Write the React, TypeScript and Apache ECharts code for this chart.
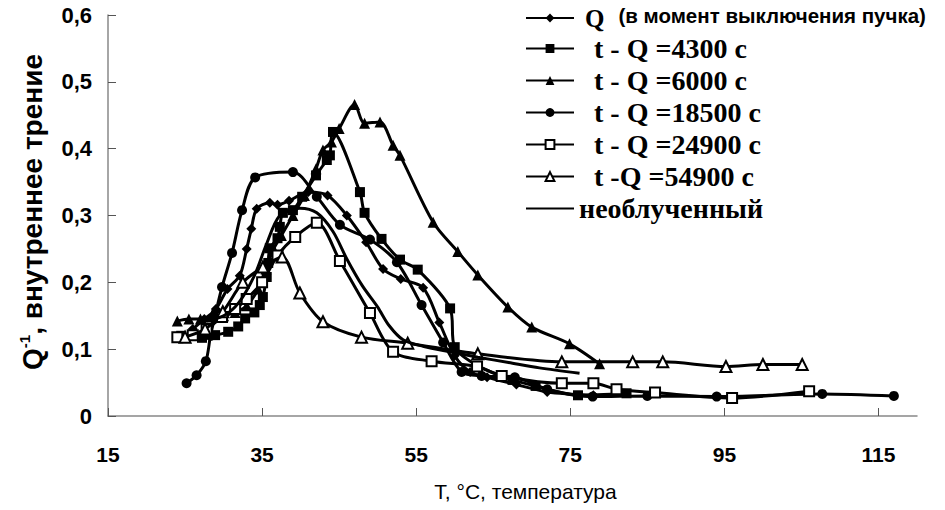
import React, { useEffect, useRef } from "react";
import * as echarts from "echarts";

const xTickValues = [15, 35, 55, 75, 95, 115];

const seriesNames = [
  "Q",
  "t - Q =4300 с",
  "t - Q =6000 с",
  "t - Q =18500 с",
  "t - Q =24900 с",
  "t -Q =54900 с",
  "необлученный",
];

const dataQ = [
  [26, 0.13], [27.5, 0.145], [29, 0.16], [30.5, 0.19], [32.1, 0.21], [33, 0.25], [33.6, 0.28],
  [34.3, 0.31], [36, 0.319], [37, 0.316], [38.5, 0.322], [41, 0.335], [43.5, 0.33], [46, 0.3],
  [48.5, 0.26], [50.7, 0.22], [53, 0.205], [55.9, 0.192], [58, 0.14], [60, 0.09], [62, 0.066],
  [64.2, 0.058], [68, 0.047], [72, 0.036], [78, 0.031],
];

const data4300 = [
  [24.5, 0.12], [26, 0.12], [27.2, 0.117], [28.9, 0.121], [30.6, 0.126], [31.9, 0.134],
  [32.8, 0.146], [34, 0.155], [34.7, 0.166], [35.1, 0.178], [35.6, 0.208], [35.8, 0.229],
  [36, 0.251], [37, 0.266], [37.3, 0.283], [37.7, 0.304], [39, 0.308], [40.2, 0.328], [42, 0.36],
  [43.4, 0.383], [43.8, 0.39], [44.2, 0.425], [47.7, 0.335], [48.3, 0.304], [50.5, 0.265],
  [52.9, 0.234], [55.2, 0.219], [59.4, 0.161], [60, 0.103], [63, 0.075], [67.5, 0.054],
  [70.5, 0.045], [76, 0.031], [82.3, 0.034],
];

const data6000 = [
  [24, 0.142], [25.5, 0.145], [27, 0.145], [28.5, 0.148], [30, 0.15], [31.5, 0.155], [33, 0.165],
  [34.5, 0.19], [35.5, 0.22], [36.5, 0.25], [37.5, 0.27], [39, 0.3], [40.5, 0.33], [42, 0.37],
  [42.9, 0.398], [44, 0.41], [45, 0.43], [47, 0.466], [48.3, 0.438], [50.3, 0.44], [52, 0.405],
  [52.9, 0.39], [57.2, 0.29], [60.4, 0.246], [63, 0.211], [66.9, 0.163], [70, 0.133],
  [74.9, 0.108], [78.8, 0.078],
];

const data18500 = [
  [25.2, 0.049], [26.5, 0.061], [27.7, 0.082], [28.3, 0.12], [29, 0.155], [29.8, 0.193],
  [31.1, 0.244], [32.4, 0.308], [34.1, 0.357], [39, 0.365], [42.1, 0.328],
  [45.1, 0.286], [49, 0.264], [52.5, 0.23], [55.7, 0.166], [58.5, 0.11], [60.9, 0.066],
  [63.5, 0.06], [67.8, 0.058], [72, 0.04], [77.9, 0.029], [85, 0.03], [94, 0.029],
  [107.7, 0.033], [117, 0.03],
];

const data24900 = [
  [24, 0.118], [26, 0.121], [27.8, 0.13], [29.8, 0.148], [31.5, 0.16], [33, 0.175], [35, 0.2],
  [37, 0.24], [39.3, 0.268], [42.1, 0.289], [45.1, 0.232], [49, 0.154], [52, 0.096], [57, 0.082],
  [62.9, 0.074], [66.1, 0.06], [73.9, 0.049], [78, 0.049], [81, 0.04], [86, 0.035], [96, 0.027],
  [106, 0.037],
];

const data54900 = [
  [25, 0.118], [27.6, 0.13], [29.9, 0.156], [32.5, 0.2], [35.1, 0.223], [37.6, 0.238],
  [39.9, 0.184], [42.9, 0.141], [47.9, 0.118], [53.9, 0.109], [63, 0.093], [73.9, 0.081],
  [83.1, 0.081], [87, 0.081], [95.2, 0.074], [100, 0.077], [105.1, 0.077],
];

const dataUnirr = [
  [27, 0.14], [30, 0.15], [32, 0.17], [34, 0.21], [35.5, 0.255], [37.3, 0.3], [39.9, 0.311],
  [42.1, 0.304], [44.2, 0.276], [46, 0.235], [48, 0.195], [50, 0.163], [51.5, 0.135],
  [53.3, 0.114], [56, 0.104], [59.4, 0.096], [63, 0.088], [67, 0.08], [71, 0.072], [76.2, 0.064],
];

const allData = [dataQ, data4300, data6000, data18500, data24900, data54900, dataUnirr];
const symbols = ["diamond", "rect", "triangle", "circle", "rect", "triangle", "none"];
const symbolSizes = [10, 10, 11, 10, 10, 11, 0];
const hollow = [false, false, false, false, true, true, false];

export default function App() {
  const ref = useRef<HTMLDivElement>(null);
  useEffect(() => {
    const chart = echarts.init(ref.current!, null, { renderer: "svg" });
    const series = seriesNames.map((name, i) => ({
      name,
      type: "line",
      data: allData[i],
      smooth: 0.3,
      symbol: symbols[i],
      symbolSize: symbolSizes[i],
      showSymbol: symbols[i] !== "none",
      lineStyle: { color: "#000", width: 3 },
      itemStyle: hollow[i]
        ? { color: "#fff", borderColor: "#000", borderWidth: 2 }
        : { color: "#000", borderColor: "#000", borderWidth: 0 },
      emphasis: { disabled: true },
      z: 2 + i,
    }));
    const legendData = seriesNames.map((name, i) =>
      symbols[i] === "none" ? { name, itemStyle: { opacity: 0 } } : { name }
    );
    chart.setOption({
      animation: false,
      backgroundColor: "#fff",
      grid: { left: 108, right: 28, top: 15, bottom: 94, containLabel: false },
      legend: {
        orient: "vertical",
        left: 520,
        top: 0,
        itemWidth: 48,
        itemHeight: 11,
        itemGap: 4,
        selectedMode: false,
        data: legendData,
        formatter: (name: string) => {
          if (name === "Q") return "{q|Q}{p|(в момент выключения пучка)}";
          if (name === "необлученный") return "{u|" + name + "}";
          return "{t|" + name + "}";
        },
        textStyle: {
          color: "#000",
          fontFamily: "Liberation Serif",
          fontWeight: "bold",
          fontSize: 28,
          rich: {
            q: { fontFamily: "Liberation Serif", fontWeight: "bold", fontSize: 25, lineHeight: 26, padding: [0, 14, 0, 6], color: "#000" },
            p: { fontFamily: "Liberation Sans", fontWeight: "bold", fontSize: 20.5, lineHeight: 26, verticalAlign: "top", color: "#000" },
            t: { fontFamily: "Liberation Serif", fontWeight: "bold", fontSize: 28, lineHeight: 26, padding: [0, 0, 0, 15], color: "#000" },
            u: { fontFamily: "Liberation Serif", fontWeight: "bold", fontSize: 28, lineHeight: 26, color: "#000" },
          },
        },
      },
      xAxis: {
        type: "value",
        min: 15,
        max: 120,
        name: "T, °C, температура",
        nameLocation: "middle",
        nameGap: 65,
        nameTextStyle: { fontFamily: "Liberation Sans", fontSize: 21, color: "#000", padding: [0, 0, 0, 26] },
        axisLine: { lineStyle: { color: "#888", width: 1.5 } },
        axisTick: { inside: true, length: 8, lineStyle: { color: "#555" }, customValues: xTickValues },
        axisLabel: {
          customValues: xTickValues,
          margin: 28,
          fontFamily: "Liberation Sans",
          fontWeight: "bold",
          fontSize: 21,
          color: "#000",
        },
        splitLine: { show: false },
      },
      yAxis: {
        type: "value",
        min: 0,
        max: 0.6,
        interval: 0.1,
        name: "{q|Q}{s|-1}{t|, внутреннее трение}",
        nameLocation: "middle",
        nameGap: 61,
        nameTextStyle: {
          color: "#000",
          padding: [0, 0, 0, 7],
          rich: {
            q: { fontFamily: "Liberation Sans", fontWeight: "bold", fontSize: 28, lineHeight: 30, color: "#000" },
            s: { fontFamily: "Liberation Sans", fontWeight: "bold", fontSize: 15, lineHeight: 30, verticalAlign: "top", color: "#000" },
            t: { fontFamily: "Liberation Sans", fontWeight: "bold", fontSize: 28, lineHeight: 30, color: "#000" },
          },
        },
        axisLine: { show: true, lineStyle: { color: "#888", width: 1.5 } },
        axisTick: { show: true, inside: true, length: 8, lineStyle: { color: "#555" } },
        axisLabel: {
          margin: 16,
          fontFamily: "Liberation Sans",
          fontWeight: "bold",
          fontSize: 22,
          color: "#000",
          formatter: (v: number) => (v === 0 ? "0" : v.toFixed(1).replace(".", ",")),
        },
        splitLine: { show: false },
      },
      series,
    });
    return () => chart.dispose();
  }, []);
  return <div ref={ref} style={{ position: "fixed", left: 0, top: 0, width: 945, height: 510 }} />;
}
